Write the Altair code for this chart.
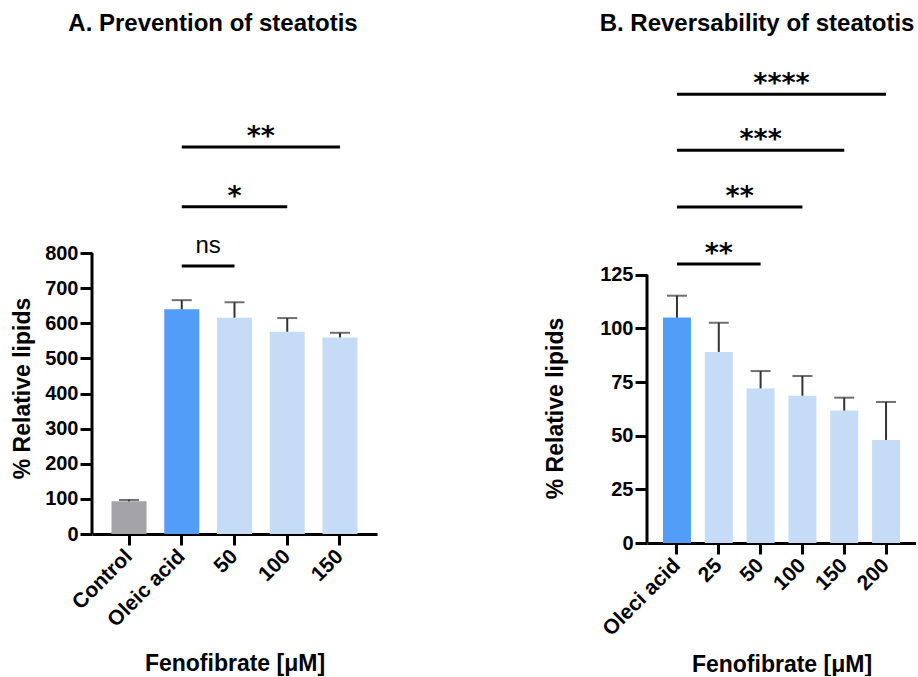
import altair as alt
import pandas as pd

# ---------------- Panel A: Prevention of steatotis ----------------
a_cats = ["Control", "Oleic acid", "50", "100", "150"]
a_means = [93, 640, 616, 576, 560]
a_sd = [4, 26, 44, 39, 13]
a_groups = ["control", "oleic", "feno", "feno", "feno"]
a_sig_from = ["Oleic acid", "Oleic acid", "Oleic acid"]
a_sig_to = ["50", "100", "150"]
a_sig_y = [763, 932, 1102]
a_sig_label = ["ns", "*", "**"]
a_ticks = [0, 100, 200, 300, 400, 500, 600, 700, 800]

# ---------------- Panel B: Reversability of steatotis ----------------
b_cats = ["Oleci acid", "25", "50", "100", "150", "200"]
b_means = [105, 89, 72, 68.6, 61.7, 48]
b_sd = [10.2, 13.6, 8.1, 9.2, 6.0, 17.7]
b_groups = ["oleic", "feno", "feno", "feno", "feno", "feno"]
b_sig_from = ["Oleci acid", "Oleci acid", "Oleci acid", "Oleci acid"]
b_sig_to = ["50", "100", "150", "200"]
b_sig_y = [130, 156.5, 183, 209]
b_sig_label = ["**", "**", "***", "****"]
b_ticks = [0, 25, 50, 75, 100, 125]

group_domain = ["control", "oleic", "feno"]
group_colors = ["#A3A3A8", "#529DF7", "#C6DCF6"]

FONT = "Liberation Sans"


def panel(cats, means, sd, groups, s_from, s_to, s_y, s_lab, ticks,
          width, height, ydom, po, pi, title, title_dx,
          ytx, yty, xty):
    df = pd.DataFrame({"cat": cats, "mean": means, "sd": sd, "group": groups})
    sig = pd.DataFrame({
        "from_i": [cats.index(c) for c in s_from],
        "to_i": [cats.index(c) for c in s_to],
        "y": s_y,
        "label": s_lab,
    })
    axis_df = pd.DataFrame({"lo": [ticks[0]], "hi": [ticks[-1]]})

    yscale = alt.Scale(domain=[0, ydom], nice=False, zero=True)
    xband = alt.Scale(paddingInner=pi, paddingOuter=po)
    n = len(cats)
    a = -(po + (1 - pi) / 2)
    b = n - 1 + po + (1 - pi) / 2
    xlin = alt.Scale(domain=[a, b], nice=False, zero=False)

    xaxis = alt.Axis(
        labelAngle=-45, labelFont=FONT, labelFontSize=21, labelFontWeight="bold",
        labelColor="black", labelPadding=8, labelAlign="right", labelBaseline="middle",
        domainColor="black", domainWidth=3, tickColor="black", tickWidth=3,
        tickSize=11, title="Fenofibrate [μM]", titleFont=FONT, titleFontSize=23,
        titleFontWeight="bold", titleColor="black", titleY=xty,
        titleBaseline="middle", grid=False, labelOverlap=False,
    )
    yaxis = alt.Axis(
        values=ticks, domain=False, grid=False, tickColor="black", tickWidth=3,
        tickSize=12, labelFont=FONT, labelFontSize=20, labelFontWeight="bold",
        labelColor="black", labelPadding=2, title="% Relative lipids",
        titleFont=FONT, titleFontSize=23, titleFontWeight="bold", titleColor="black",
        titleAngle=270, titleX=ytx, titleY=yty, titleBaseline="middle",
        titleAlign="center",
    )

    base = alt.Chart(df).transform_calculate(hi="datum.mean + datum.sd")

    bars = base.mark_bar().encode(
        x=alt.X("cat:N", sort=cats, scale=xband, axis=xaxis),
        y=alt.Y("mean:Q", scale=yscale, axis=yaxis),
        color=alt.Color("group:N", scale=alt.Scale(domain=group_domain, range=group_colors), legend=None),
    )
    err = base.mark_rule(color="#333333", strokeWidth=2).encode(
        x=alt.X("cat:N", sort=cats), y="mean:Q", y2="hi:Q"
    )
    cap = base.mark_tick(color="#333333", thickness=2, size=20).encode(
        x=alt.X("cat:N", sort=cats), y="hi:Q"
    )
    yline = alt.Chart(axis_df).mark_rule(color="black", strokeWidth=3).encode(
        x=alt.value(0), y="lo:Q", y2="hi:Q"
    )
    main = alt.layer(bars, err, cap, yline)

    sbase = alt.Chart(sig).transform_calculate(mid="(datum.from_i + datum.to_i) / 2")
    srule = sbase.mark_rule(color="black", strokeWidth=3).encode(
        x=alt.X("from_i:Q", scale=xlin, axis=None), x2="to_i:Q", y="y:Q"
    )
    stars = sbase.transform_filter("datum.label != 'ns'").mark_text(
        font="DejaVu Sans", fontWeight="bold", fontSize=27, baseline="alphabetic",
        dy=-2, color="black",
    ).encode(x=alt.X("mid:Q", scale=xlin, axis=None), y="y:Q", text="label:N")
    ns = sbase.transform_filter("datum.label == 'ns'").mark_text(
        font=FONT, fontSize=24, baseline="alphabetic", dy=-13, color="black",
    ).encode(x=alt.X("mid:Q", scale=xlin, axis=None), y="y:Q", text="label:N")
    annot = alt.layer(srule, stars, ns)

    layer = alt.layer(main, annot).resolve_scale(x="independent").properties(
        width=width, height=height,
        view=alt.ViewBackground(stroke="transparent", strokeWidth=0),
        title=alt.TitleParams(
            text=title, font=FONT, fontSize=24, fontWeight="bold", color="black",
            anchor="middle", frame="group", dx=title_dx, offset=24,
        ),
    )
    return layer


pA = panel(a_cats, a_means, a_sd, a_groups, a_sig_from, a_sig_to, a_sig_y, a_sig_label,
           a_ticks, 285, 474, 1350, 0.37, 0.336, "A. Prevention of steatotis", -21.5,
           -70, 328, 129)
pB = panel(b_cats, b_means, b_sd, b_groups, b_sig_from, b_sig_to, b_sig_y, b_sig_label,
           b_ticks, 269, 483, 225, 0.382, 0.331, "B. Reversability of steatotis", -24.5,
           -92, 348, 121)

chart = alt.hconcat(pA, pB, spacing=167).properties(
    padding={"left": 11, "top": 12, "right": 0, "bottom": 0}
).configure_view(stroke="transparent", strokeWidth=0).configure(background="white")

chart.save("out.html", embed_options={"renderer": "svg", "actions": False})
